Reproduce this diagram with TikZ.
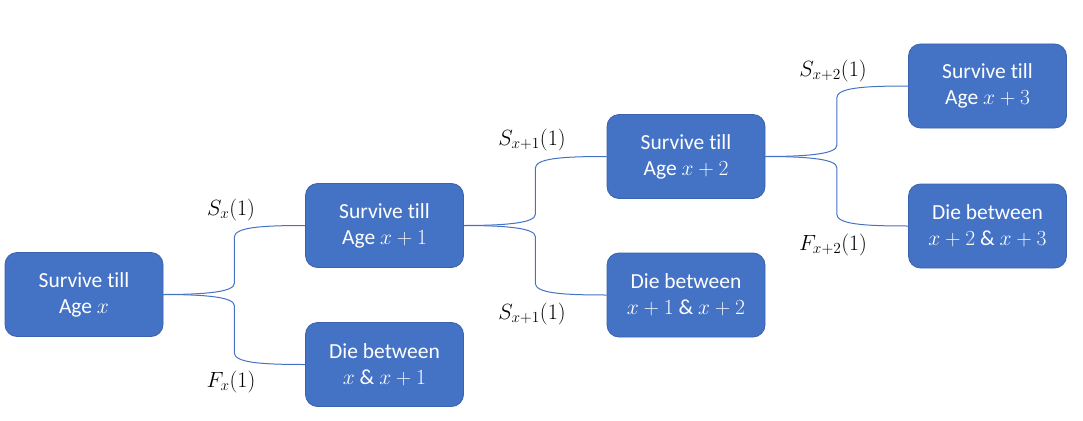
\documentclass[tikz,border=0pt]{standalone}
\usepackage{fix-cm}
\usepackage[no-math]{fontspec}
\setmainfont{Carlito}[Ligatures=NoCommon]
\usetikzlibrary{calc}
\definecolor{boxblue}{HTML}{4472C4}
\definecolor{boxedge}{HTML}{3A62AE}
\tikzset{
  statebox/.style={rectangle, rounded corners=12pt, fill=boxblue, draw=boxedge, line width=0.8pt,
    minimum width=158pt, minimum height=84pt, text=white, align=center,
    font=\fontsize{21.5}{26}\selectfont, inner sep=0pt},
  plabel/.style={font=\fontsize{22}{26}\selectfont, text=black, inner sep=0pt},
  conn/.style={draw=boxblue, line width=1pt,
    to path={let \p1=(\tikztostart), \p2=(\tikztotarget), \n1={(\x1+\x2)/2}, \n2={sign(\y2-\y1)} in
      (\p1) .. controls (\x1+45pt,\y1) and (\n1,\y1+\n2*3pt) .. (\n1,\y1+\n2*11pt)
      -- (\n1,\y2-\n2*12pt) .. controls (\n1,\y2-\n2*2pt) and (\n1+25pt,\y2) .. (\p2)}}
}
\begin{document}
\begin{tikzpicture}[x=1pt,y=-1pt]
\useasboundingbox (0,0) rectangle (1083,420);
\node[statebox] (b1) at (84,294.5) {Survive till\\Age $x$};
\node[statebox] (b2) at (384.5,225.5) {Survive till\\Age $x+1$};
\node[statebox] (b3) at (384.5,364.5) {Die between\\$x$ \& $x+1$};
\node[statebox] (b4) at (686,156.5) {Survive till\\Age $x+2$};
\node[statebox] (b5) at (686,295) {Die between\\$x+1$ \& $x+2$};
\node[statebox] (b6) at (987.5,86) {Survive till\\Age $x+3$};
\node[statebox] (b7) at (987.5,226) {Die between\\$x+2$ \& $x+3$};

\draw[conn] (b1.east) to (b2.west);
\draw[conn] (b1.east) to (b3.west);
\draw[conn] (b2.east) to (b4.west);
\draw[conn] (b2.east) to (b5.west);
\draw[conn] (b4.east) to (b6.west);
\draw[conn] (b4.east) to (b7.west);

\node[plabel] (l1) at (231,210) {$S_x(1)$};
\node[plabel] (l2) at (231,382) {$F_x(1)$};
\node[plabel] (l3) at (532,140) {$S_{x+1}(1)$};
\node[plabel] (l4) at (532,314) {$S_{x+1}(1)$};
\node[plabel] (l5) at (833,71) {$S_{x+2}(1)$};
\node[plabel] (l6) at (833,245) {$F_{x+2}(1)$};
\end{tikzpicture}
\end{document}
